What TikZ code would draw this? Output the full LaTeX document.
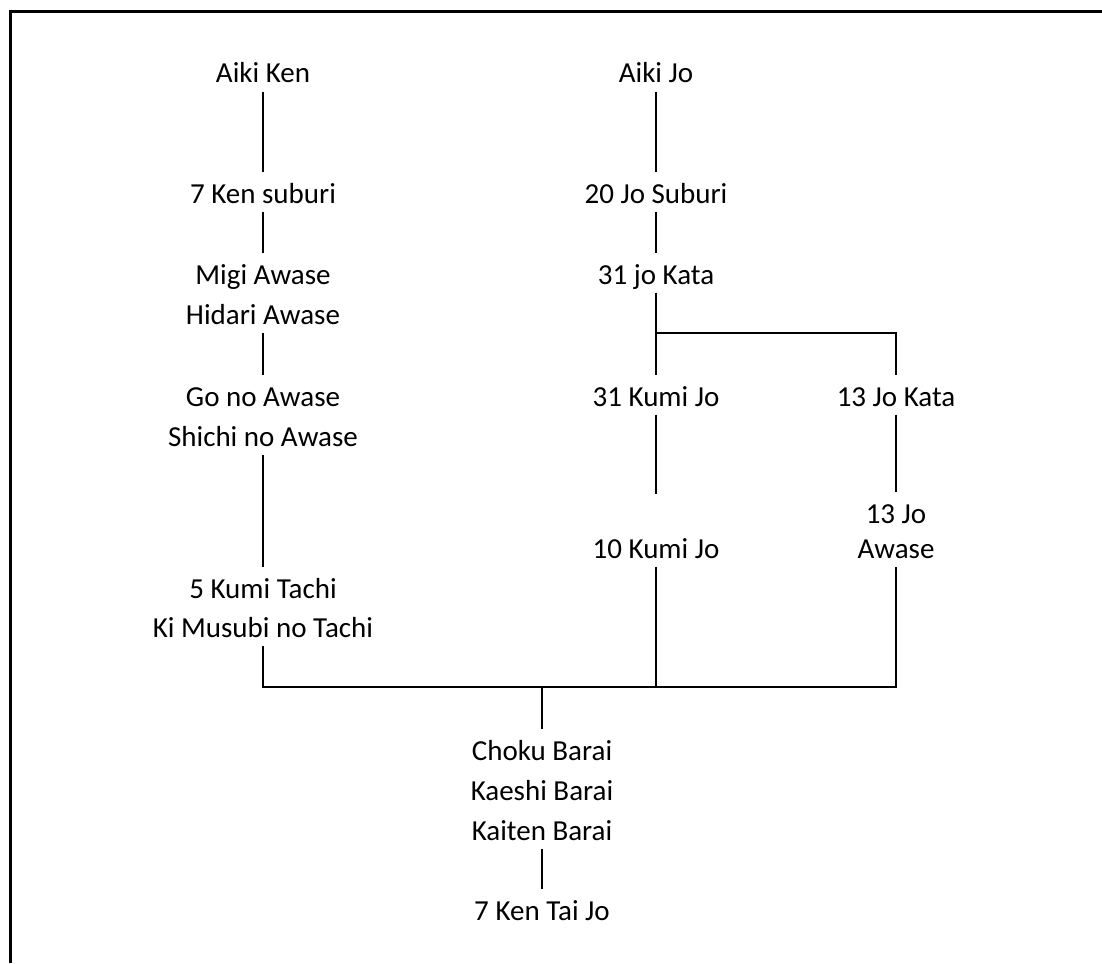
\documentclass[tikz,border=0pt]{standalone}
\usepackage{fontspec}
\setmainfont{Carlito}
\begin{document}
\begin{tikzpicture}[x=1pt,y=-1pt,
  lbl/.style={inner sep=0pt, text height=31pt, text depth=8.5pt, anchor=base,
    font=\fontsize{29pt}{40pt}\selectfont},
  conn/.style={line width=2.2pt},
  frame/.style={line width=3pt, line join=miter}]
\useasboundingbox (0,0) rectangle (1102,963);
\draw[frame] (10.5,963) -- (10.5,11.5) -- (1102,11.5);
% left column
\node[lbl] (aikiken)   at (263,83)  {Aiki Ken};
\node[lbl] (kensub)    at (263,203) {7 Ken suburi};
\node[lbl] (migi)      at (263,284) {Migi Awase};
\node[lbl] (hidari)    at (263,324) {Hidari Awase};
\node[lbl] (gono)      at (263,406) {Go no Awase};
\node[lbl] (shichi)    at (263,446.5) {Shichi no Awase};
\node[lbl] (kumitachi) at (263,598) {5 Kumi Tachi};
\node[lbl] (kimusubi)  at (263,637) {Ki Musubi no Tachi};
% middle column
\node[lbl] (aikijo)    at (656,83)  {Aiki Jo};
\node[lbl] (josub)     at (656,203) {20 Jo Suburi};
\node[lbl] (jokata31)  at (656,284) {31 jo Kata};
\node[lbl] (kumijo31)  at (656,406) {31 Kumi Jo};
\node[lbl] (kumijo10)  at (656,558) {10 Kumi Jo};
% right column
\node[lbl] (jokata13)  at (896,406) {13 Jo Kata};
\node[lbl] (jo13)      at (896,523) {13 Jo};
\node[lbl] (awase)     at (896,558) {Awase};
% bottom
\node[lbl] (choku)     at (542,760) {Choku Barai};
\node[lbl] (kaeshi)    at (542,800) {Kaeshi Barai};
\node[lbl] (kaiten)    at (542,840) {Kaiten Barai};
\node[lbl] (kentaijo)  at (542,920) {7 Ken Tai Jo};
% coordinates
\coordinate (split) at (656,333);
\coordinate (k31end) at (656,494);
\coordinate (barL) at (263,687);
\coordinate (barC) at (542,687);
\coordinate (barR) at (896,687);
% connectors
\draw[conn] (aikiken.south) -- (kensub.north);
\draw[conn] (kensub.south) -- (migi.north);
\draw[conn] (hidari.south) -- (gono.north);
\draw[conn] (shichi.south) -- (kumitachi.north);
\draw[conn] (kimusubi.south) -- (barL) -- (barR) -- (awase.south);
\draw[conn] (aikijo.south) -- (josub.north);
\draw[conn] (josub.south) -- (jokata31.north);
\draw[conn] (jokata31.south) -- (kumijo31.north);
\draw[conn] (split) -| (jokata13.north);
\draw[conn] (kumijo31.south) -- (k31end);
\draw[conn] (jokata13.south) -- (jo13.north);
\draw[conn] (kumijo10.south) -- (kumijo10.south |- barC);
\draw[conn] (barC) -- (choku.north);
\draw[conn] (kaiten.south) -- (kentaijo.north);
\end{tikzpicture}
\end{document}
